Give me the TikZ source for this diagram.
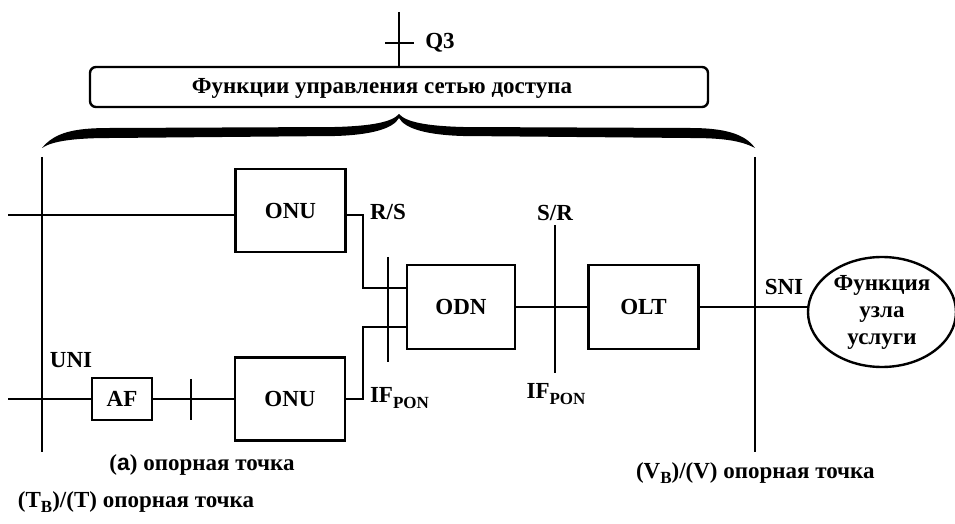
\documentclass[tikz,border=0pt]{standalone}
\usepackage{fontspec}
\setmainfont{Liberation Serif}
\setsansfont{Liberation Sans}
\usetikzlibrary{shapes.geometric, positioning, calc}

\newcommand{\lowsub}[1]{\raisebox{-0.55ex}{\fontsize{8.5}{9}\selectfont #1}}

\begin{document}
\begin{tikzpicture}[x=0.5pt, y=-0.5pt, line width=1pt,
    every node/.style={font=\bfseries\fontsize{11.5}{13.5}\selectfont},
    blk/.style={draw, line width=1.2pt, inner sep=0pt, minimum width=55pt, minimum height=41.5pt},
    lbl/.style={inner sep=0pt}]
  \useasboundingbox (0,0) rectangle (955,524);

  % management box and Q3
  \node[draw, line width=1.2pt, rounded corners=3pt, minimum width=309pt, minimum height=20pt, inner sep=0pt] (mgmt) at (399,87) {};
  \node[lbl] (mgmttxt) at (382,88) {Функции управления сетью доступа};
  \coordinate (q3top) at (399,12);
  \draw (q3top) -- (mgmt.north);
  \draw (385,43) -- (414,43);
  \node[lbl] (q3) at (440,43) {Q3};

  % brace
  \fill (42,148) .. controls (55,132) and (75,128) .. (110,128) -- (335,127)
    .. controls (372,126) and (392,122) .. (399,114)
    .. controls (406,122) and (426,126) .. (463,127) -- (690,128)
    .. controls (725,128) and (745,134) .. (755,148)
    .. controls (740,140) and (720,138) .. (690,138) -- (463,136)
    .. controls (428,135) and (405,129) .. (399,118)
    .. controls (393,129) and (370,135) .. (335,136) -- (110,138)
    .. controls (75,138) and (52,141) .. (42,148) -- cycle;

  % blocks
  \node[blk] (onuA) at (290.5,210.5) {ONU};
  \node[blk] (onuB) at (290,399) {ONU};
  \node[blk, minimum width=30pt, minimum height=21pt] (af) at (122,399) {AF};
  \node[blk, minimum width=54pt, minimum height=42pt] (odn) at (461,307) {ODN};
  \node[blk, minimum height=42pt] (olt) at (643.5,307) {OLT};
  \node[draw, ellipse, line width=1.2pt, inner sep=0pt, minimum width=74pt, minimum height=55pt,
        align=center] (svc) at (882,312) {Функция\\узла\\услуги};

  % reference lines
  \draw (42,157) -- (42,452);
  \draw (755,157) -- (755,452);
  \draw (388,257) -- (388,362);
  \draw (555,225) -- (555,373);
  \draw (191,379) -- (191,420);

  % connections
  \coordinate (inA) at (8,215);
  \coordinate (inB) at (8,399);
  \coordinate (rs) at (363,288);
  \coordinate (ifp) at (363,327);
  \draw (inA) -- (inA -| onuA.west);
  \draw (inB) -- (af);
  \draw (af) -- (onuB);
  \draw (onuA.east |- inA) -| (rs) -- (rs -| odn.west);
  \draw (onuB.east |- inB) -| (ifp) -- (ifp -| odn.west);
  \draw (odn) -- (olt);
  \draw (olt.east) -- (olt.east -| svc.west);

  % labels
  \node[lbl] (uni) at (71,360) {UNI};
  \node[lbl] (rslbl) at (388,212) {R/S};
  \node[lbl, anchor=west] (ifa) at (369,398) {IF\lowsub{PON}};
  \node[lbl] (srlbl) at (555,213) {S/R};
  \node[lbl] (ifb) at (556,394) {IF\lowsub{PON}};
  \node[lbl] (sni) at (784,287) {SNI};
  \node[lbl] (refa) at (202,465) {(\textsf{a}) опорная точка};
  \node[lbl, anchor=west] (reft) at (17,502) {(T\lowsub{B})/(T) опорная точка};
  \node[lbl, anchor=west] (refv) at (635,473) {(V\lowsub{B})/(V) опорная точка};
\end{tikzpicture}
\end{document}
